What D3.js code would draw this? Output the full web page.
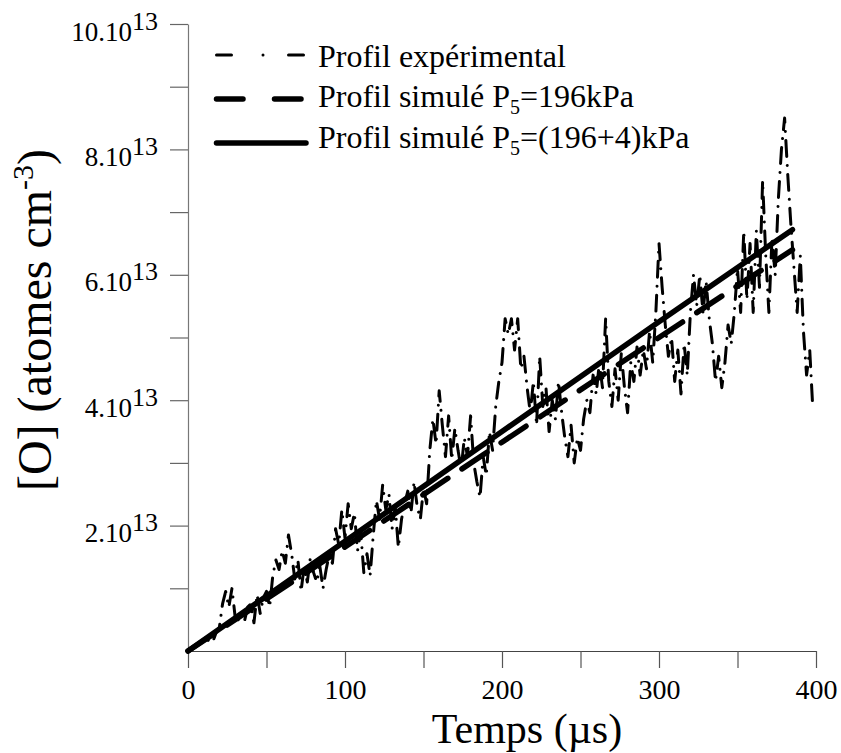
<!DOCTYPE html>
<html><head><meta charset="utf-8">
<script src="https://cdn.jsdelivr.net/npm/d3@7"></script>
<style>
body{margin:0;background:#fff}
</style>
</head><body>
<svg id="c" width="841" height="753"></svg>
<script>
// ---- data (concentration in units of 1e13 atomes cm-3, time in µs) ----
const expStart = 0, expStep = 2;
const expValues = [
  0.00,0.04,0.07,0.10,0.14,0.17,0.20,0.13,0.16,0.30,
  0.38,0.75,0.95,0.70,1.00,0.55,0.50,0.62,0.48,0.70,
  0.75,0.45,0.90,0.60,0.85,0.95,0.70,1.20,1.45,1.30,
  1.60,1.40,1.85,1.55,1.15,1.45,0.95,1.35,1.10,1.50,
  1.25,1.10,1.35,1.00,1.30,1.55,1.40,1.95,1.70,2.25,
  1.80,2.35,1.95,2.20,1.60,1.90,1.25,1.55,1.20,1.85,
  2.40,2.10,2.65,2.25,2.50,1.95,2.30,1.65,2.10,2.35,
  2.55,2.20,2.70,2.30,2.10,2.60,2.35,3.20,3.70,3.30,
  4.15,3.60,3.10,3.75,3.05,3.55,3.20,2.90,3.40,3.10,
  3.75,3.00,2.70,2.45,3.10,2.80,3.50,3.20,3.90,4.30,
  4.60,5.30,5.05,5.30,4.80,5.30,4.50,4.70,4.20,3.80,
  4.30,3.60,4.70,3.90,4.20,3.50,4.00,3.70,4.30,3.80,
  3.40,3.10,3.60,3.00,3.40,3.20,3.70,4.00,3.80,4.40,
  4.10,4.60,4.20,5.30,4.30,3.90,4.50,4.00,4.75,4.20,
  3.80,4.60,4.30,4.85,4.40,4.80,4.50,5.10,4.60,5.40,
  6.50,5.80,5.20,4.70,5.00,4.30,4.80,4.10,4.90,4.40,
  5.40,6.00,5.50,6.00,5.40,5.90,5.30,4.90,4.30,4.70,
  4.20,4.60,5.20,4.90,5.40,6.10,5.40,6.70,5.60,6.50,
  5.40,6.70,5.80,7.50,6.30,5.40,6.60,6.00,7.20,8.00,
  8.50,7.60,6.80,6.10,5.40,6.30,5.10,4.40,4.80,3.85
];
const simTime = [0, 100, 200, 300, 385];
const simP196 = [0, 1.66, 3.33, 5.00, 6.40];
const simP200 = [0, 1.75, 3.50, 5.25, 6.72];

const xTickValues = [0, 50, 100, 150, 200, 250, 300, 350, 400];
const xTickLabels = ["0", "", "100", "", "200", "", "300", "", "400"];
const yTickValues = [1, 2, 3, 4, 5, 6, 7, 8, 9, 10];
const yTickLabels = ["", "2.10", "", "4.10", "", "6.10", "", "8.10", "", "10.10"];
const yTickExponent = "13";

// ---- drawing ----
const FONT = "'Liberation Serif', 'Times New Roman', Times, serif";
const svg = d3.select("#c").style("font-family", FONT);
const x = d3.scaleLinear().domain([0, 400]).range([188, 816]);
const y = d3.scaleLinear().domain([0, 10]).range([651, 24]);

// x axis
const gx = svg.append("g").attr("transform", `translate(0,${y(0)})`)
  .call(d3.axisBottom(x).tickValues(xTickValues).tickSize(17).tickSizeOuter(0)
    .tickFormat((d, i) => xTickLabels[i]));
gx.attr("font-family", null).attr("font-size", null);
gx.select(".domain").attr("stroke", "#444").attr("stroke-width", 1.2);
gx.selectAll(".tick line").attr("stroke", "#555").attr("stroke-width", 1.2);
gx.selectAll(".tick text").attr("y", 48).attr("dy", null)
  .style("font-family", FONT).style("font-size", "28px").attr("fill", "#000");

// y axis
const gy = svg.append("g").attr("transform", `translate(${x(0)},0)`)
  .call(d3.axisLeft(y).tickValues(yTickValues).tickSize(18).tickSizeOuter(0)
    .tickFormat(() => ""));
gy.attr("font-family", null).attr("font-size", null);
gy.select(".domain").attr("stroke", "#777").attr("stroke-width", 1.2);
gy.selectAll(".tick line").attr("stroke", "#666").attr("stroke-width", 1.2);
gy.selectAll(".tick text").each(function(d, i) {
  const t = d3.select(this).attr("x", -30).attr("y", 16).attr("dy", null)
    .attr("text-anchor", "end").style("font-family", FONT).style("font-size", "27px").attr("fill", "#000");
  if (yTickLabels[i]) {
    t.append("tspan").text(yTickLabels[i]);
    t.append("tspan").attr("dy", -11).style("font-size", "26px").text(yTickExponent);
  }
});

// data lines
const expLine = d3.line().x((d, i) => x(expStart + i * expStep)).y(d => y(d));
svg.append("path").datum(expValues).attr("d", expLine)
  .attr("fill", "none").attr("stroke", "#000").attr("stroke-width", 3)
  .attr("stroke-linecap", "round").attr("stroke-linejoin", "round")
  .attr("stroke-dasharray", "16,9,0.01,9");

const simLine = d3.line().x((d, i) => x(simTime[i])).y(d => y(d));
svg.append("path").datum(simP196).attr("d", simLine)
  .attr("fill", "none").attr("stroke", "#000").attr("stroke-width", 5.5)
  .attr("stroke-linecap", "round").attr("stroke-dasharray", "30,17");
svg.append("path").datum(simP200).attr("d", simLine)
  .attr("fill", "none").attr("stroke", "#000").attr("stroke-width", 5.5)
  .attr("stroke-linecap", "round");

// legend
const legendStyles = [
  {w: 3, dash: "15,31.5,0.01,25.5"},
  {w: 5.5, dash: "26.5,31.5"},
  {w: 5.5, dash: null}
];
const legendLineY = [55, 99, 143];
const legendTextY = [67, 107, 148];
const lg = svg.append("g");
legendStyles.forEach((s, i) => {
  lg.append("line").attr("x1", 216.5).attr("x2", 306).attr("y1", legendLineY[i]).attr("y2", legendLineY[i])
    .attr("stroke", "#000").attr("stroke-width", s.w).attr("stroke-linecap", "round")
    .attr("stroke-dasharray", s.dash);
});
function txt(sel) { return sel.style("font-family", FONT).attr("fill", "#000"); }
txt(lg.append("text")).attr("x", 318).attr("y", legendTextY[0]).style("font-size", "32px")
  .text("Profil expérimental");
const lt1 = txt(lg.append("text")).attr("x", 318).attr("y", legendTextY[1]).style("font-size", "32px");
lt1.append("tspan").text("Profil simulé P");
lt1.append("tspan").attr("dy", 7).style("font-size", "20px").text("5");
lt1.append("tspan").attr("dy", -7).text("=196kPa");
const lt2 = txt(lg.append("text")).attr("x", 318).attr("y", legendTextY[2]).style("font-size", "32px");
lt2.append("tspan").text("Profil simulé P");
lt2.append("tspan").attr("dy", 7).style("font-size", "20px").text("5");
lt2.append("tspan").attr("dy", -7).text("=(196+4)kPa");

// axis titles
txt(svg.append("text")).attr("x", 527).attr("y", 743).attr("text-anchor", "middle")
  .style("font-size", "42px").text("Temps (µs)");
const yt = txt(svg.append("text")).attr("transform", "translate(51,320) rotate(-90)")
  .attr("text-anchor", "middle").style("font-size", "48px");
yt.append("tspan").text("[O] (atomes cm");
yt.append("tspan").attr("dy", -18).style("font-size", "30px").text("-3");
yt.append("tspan").attr("dy", 18).text(")");
</script>
</body></html>
